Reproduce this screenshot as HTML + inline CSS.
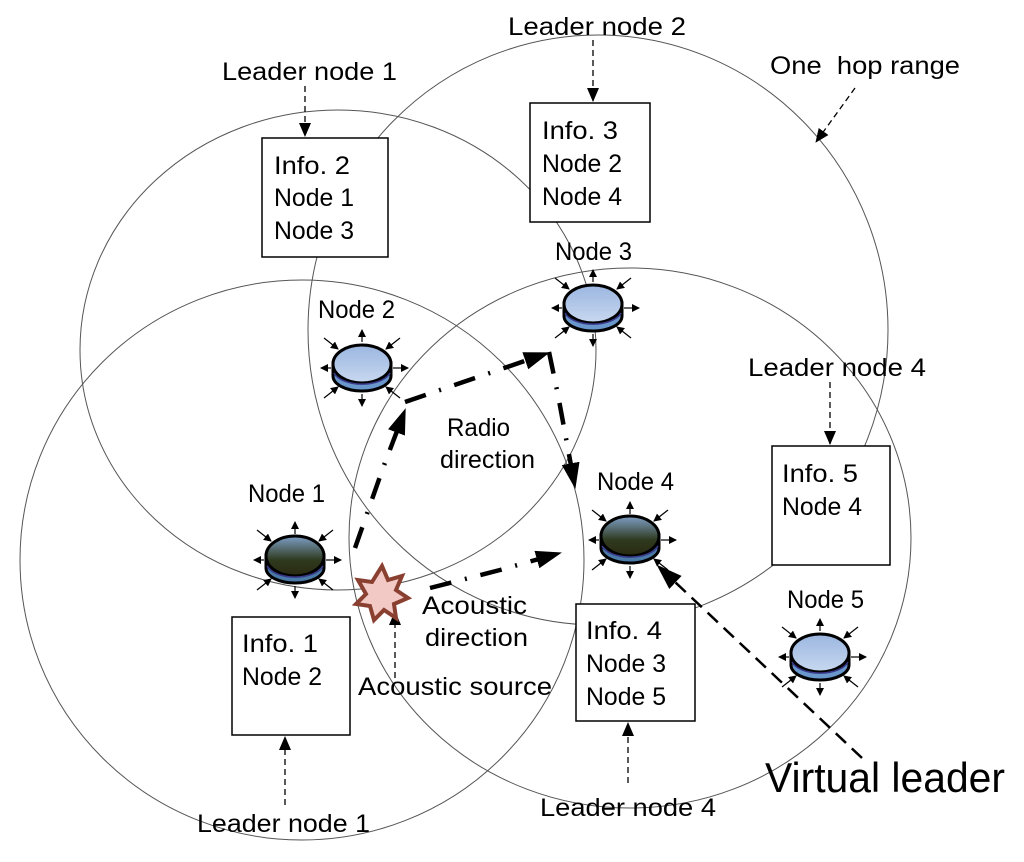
<!DOCTYPE html>
<html><head><meta charset="utf-8"><style>
html,body{margin:0;padding:0;background:#fff;}
svg{display:block;}
text{font-family:"Liberation Sans",sans-serif;font-size:25px;fill:#000;}
</style></head><body>
<svg width="1024" height="862" viewBox="0 0 1024 862" xmlns="http://www.w3.org/2000/svg">
<defs>
<linearGradient id="lg" x1="0" y1="0" x2="0" y2="1"><stop offset="0" stop-color="#9bb6e0"/><stop offset="1" stop-color="#c8d8f0"/></linearGradient>
<linearGradient id="dg" x1="0" y1="0" x2="0" y2="1"><stop offset="0" stop-color="#7fa0c8"/><stop offset="0.6" stop-color="#2e3a1e"/><stop offset="1" stop-color="#2a2a10"/></linearGradient>
<marker id="ah" markerWidth="8" markerHeight="8" refX="7" refY="4" orient="auto" markerUnits="userSpaceOnUse"><path d="M0,0 L8,4 L0,8z" fill="#000"/></marker>
<marker id="ahb" markerWidth="14" markerHeight="12" refX="13" refY="6" orient="auto" markerUnits="userSpaceOnUse"><path d="M0,0 L14,6 L0,12z" fill="#000"/></marker>
<marker id="ahr" markerWidth="26" markerHeight="18" refX="24" refY="9" orient="auto" markerUnits="userSpaceOnUse"><path d="M0,0 L26,9 L0,18z" fill="#000"/></marker>
<g id="arrs" stroke="#000" stroke-width="1.2" fill="none">
<line x1="0" y1="-26" x2="0" y2="-38" marker-end="url(#ah)"/>
<line x1="0" y1="26" x2="0" y2="38" marker-end="url(#ah)"/>
<line x1="31" y1="0" x2="46" y2="0" marker-end="url(#ah)"/>
<line x1="-31" y1="0" x2="-41" y2="0" marker-end="url(#ah)"/>
<line x1="-38" y1="-30" x2="-24" y2="-19" marker-end="url(#ah)"/>
<line x1="38" y1="-30" x2="24" y2="-19" marker-end="url(#ah)"/>
<line x1="-38" y1="30" x2="-24" y2="19" marker-end="url(#ah)"/>
<line x1="38" y1="30" x2="24" y2="19" marker-end="url(#ah)"/>
</g>
<g id="nl"><use href="#arrs"/>
<path d="M-29,-5 L-29,8 A29,15 0 0 0 29,8 L29,-5z" fill="#6a98cc" stroke="#000" stroke-width="3"/>
<ellipse cx="0" cy="-4" rx="29" ry="19" fill="url(#lg)" stroke="#000" stroke-width="3"/>
<path d="M-28,5 A29,15 0 0 0 28,5" fill="none" stroke="#3a3a8a" stroke-width="1.5"/>
</g>
<g id="nd"><use href="#arrs"/>
<path d="M-29,-5 L-29,8 A29,15 0 0 0 29,8 L29,-5z" fill="#4a7aa8" stroke="#000" stroke-width="3"/>
<ellipse cx="0" cy="-4" rx="29" ry="20" fill="url(#dg)" stroke="#000" stroke-width="3"/>
<path d="M-28,6 A29,15 0 0 0 28,6" fill="none" stroke="#3a3a8a" stroke-width="1.5"/>
</g>
</defs>

<g fill="none" stroke="#555" stroke-width="1">
<ellipse cx="338" cy="350" rx="258" ry="240"/>
<ellipse cx="598" cy="330" rx="290" ry="295"/>
<ellipse cx="630" cy="538" rx="281" ry="270"/>
<ellipse cx="302" cy="560" rx="282" ry="280"/>
</g>

<g fill="#fff" stroke="#000" stroke-width="1.5">
<rect x="262" y="138" width="126" height="119"/>
<rect x="530" y="103" width="120" height="119"/>
<rect x="772" y="446" width="118" height="119"/>
<rect x="232" y="617" width="118" height="118"/>
<rect x="576" y="604" width="119" height="117"/>
</g>

<g>
<text x="274" y="174" textLength="76" lengthAdjust="spacingAndGlyphs">Info. 2</text><text x="274" y="206" textLength="80" lengthAdjust="spacingAndGlyphs">Node 1</text><text x="274" y="239" textLength="80" lengthAdjust="spacingAndGlyphs">Node 3</text>
<text x="542" y="139" textLength="76" lengthAdjust="spacingAndGlyphs">Info. 3</text><text x="542" y="172" textLength="80" lengthAdjust="spacingAndGlyphs">Node 2</text><text x="542" y="205" textLength="80" lengthAdjust="spacingAndGlyphs">Node 4</text>
<text x="782" y="482" textLength="76" lengthAdjust="spacingAndGlyphs">Info. 5</text><text x="782" y="515" textLength="80" lengthAdjust="spacingAndGlyphs">Node 4</text>
<text x="242" y="652" textLength="76" lengthAdjust="spacingAndGlyphs">Info. 1</text><text x="242" y="685" textLength="80" lengthAdjust="spacingAndGlyphs">Node 2</text>
<text x="586" y="639" textLength="76" lengthAdjust="spacingAndGlyphs">Info. 4</text><text x="586" y="672" textLength="80" lengthAdjust="spacingAndGlyphs">Node 3</text><text x="586" y="705" textLength="80" lengthAdjust="spacingAndGlyphs">Node 5</text>

<text x="222" y="80" textLength="175" lengthAdjust="spacingAndGlyphs">Leader node 1</text>
<text x="508" y="35" textLength="178" lengthAdjust="spacingAndGlyphs">Leader node 2</text>
<text x="770" y="74" textLength="190" lengthAdjust="spacingAndGlyphs" xml:space="preserve">One  hop range</text>
<text x="555" y="260" textLength="77" lengthAdjust="spacingAndGlyphs">Node 3</text>
<text x="318" y="318" textLength="77" lengthAdjust="spacingAndGlyphs">Node 2</text>
<text x="748" y="376" textLength="178" lengthAdjust="spacingAndGlyphs">Leader node 4</text>
<text x="447" y="436" textLength="63" lengthAdjust="spacingAndGlyphs">Radio</text>
<text x="440" y="468" textLength="95" lengthAdjust="spacingAndGlyphs">direction</text>
<text x="597" y="490" textLength="77" lengthAdjust="spacingAndGlyphs">Node 4</text>
<text x="248" y="502" textLength="77" lengthAdjust="spacingAndGlyphs">Node 1</text>
<text x="787" y="608" textLength="77" lengthAdjust="spacingAndGlyphs">Node 5</text>
<text x="422" y="614" textLength="105" lengthAdjust="spacingAndGlyphs">Acoustic</text>
<text x="425" y="646" textLength="103" lengthAdjust="spacingAndGlyphs">direction</text>
<text x="358" y="695" textLength="194" lengthAdjust="spacingAndGlyphs">Acoustic source</text>
<text x="197" y="832" textLength="173" lengthAdjust="spacingAndGlyphs">Leader node 1</text>
<text x="540" y="816" textLength="176" lengthAdjust="spacingAndGlyphs">Leader node 4</text>
<text x="765" y="792" style="font-size:42px" textLength="240" lengthAdjust="spacingAndGlyphs">Virtual leader</text>
</g>

<g stroke="#000" stroke-width="1.3" stroke-dasharray="6,4" fill="none">
<line x1="305" y1="86" x2="305" y2="136" marker-end="url(#ahb)"/>
<line x1="593" y1="40" x2="593" y2="101" marker-end="url(#ahb)"/>
<line x1="855" y1="88" x2="816" y2="142" marker-end="url(#ahb)"/>
<line x1="830" y1="382" x2="830" y2="444" marker-end="url(#ahb)"/>
<line x1="285" y1="805" x2="285" y2="737" marker-end="url(#ahb)"/>
<line x1="628" y1="783" x2="628" y2="723" marker-end="url(#ahb)"/>
<line x1="395" y1="678" x2="395" y2="612" marker-end="url(#ahb)"/>
</g>
<line x1="862" y1="758" x2="658" y2="566" stroke="#000" stroke-width="2.5" stroke-dasharray="14,8" marker-end="url(#ahr)"/>

<g stroke="#000" stroke-width="4.5" fill="none" stroke-dasharray="22,14,2,14" stroke-linecap="butt">
<path d="M355,548 L383,468 L405,410" marker-end="url(#ahr)"/>
<path d="M405,402 L440,390 L548,353" marker-end="url(#ahr)"/>
<path d="M549,352 L558,395 L575,487" marker-end="url(#ahr)"/>
<path d="M430,588 L500,570 L560,553" marker-end="url(#ahr)"/>
</g>

<polygon points="382,566 388,580 402,576 396,590 408,598 394,604 396,618 384,610 374,620 370,606 356,604 366,594 358,580 372,582" fill="#f3c9c6" stroke="#8a4030" stroke-width="4" stroke-linejoin="miter"/>

<use href="#nl" x="362" y="368"/>
<use href="#nl" x="593" y="308"/>
<use href="#nd" x="295" y="560"/>
<use href="#nd" x="630" y="540"/>
<use href="#nl" x="820" y="657"/>
</svg>
</body></html>
